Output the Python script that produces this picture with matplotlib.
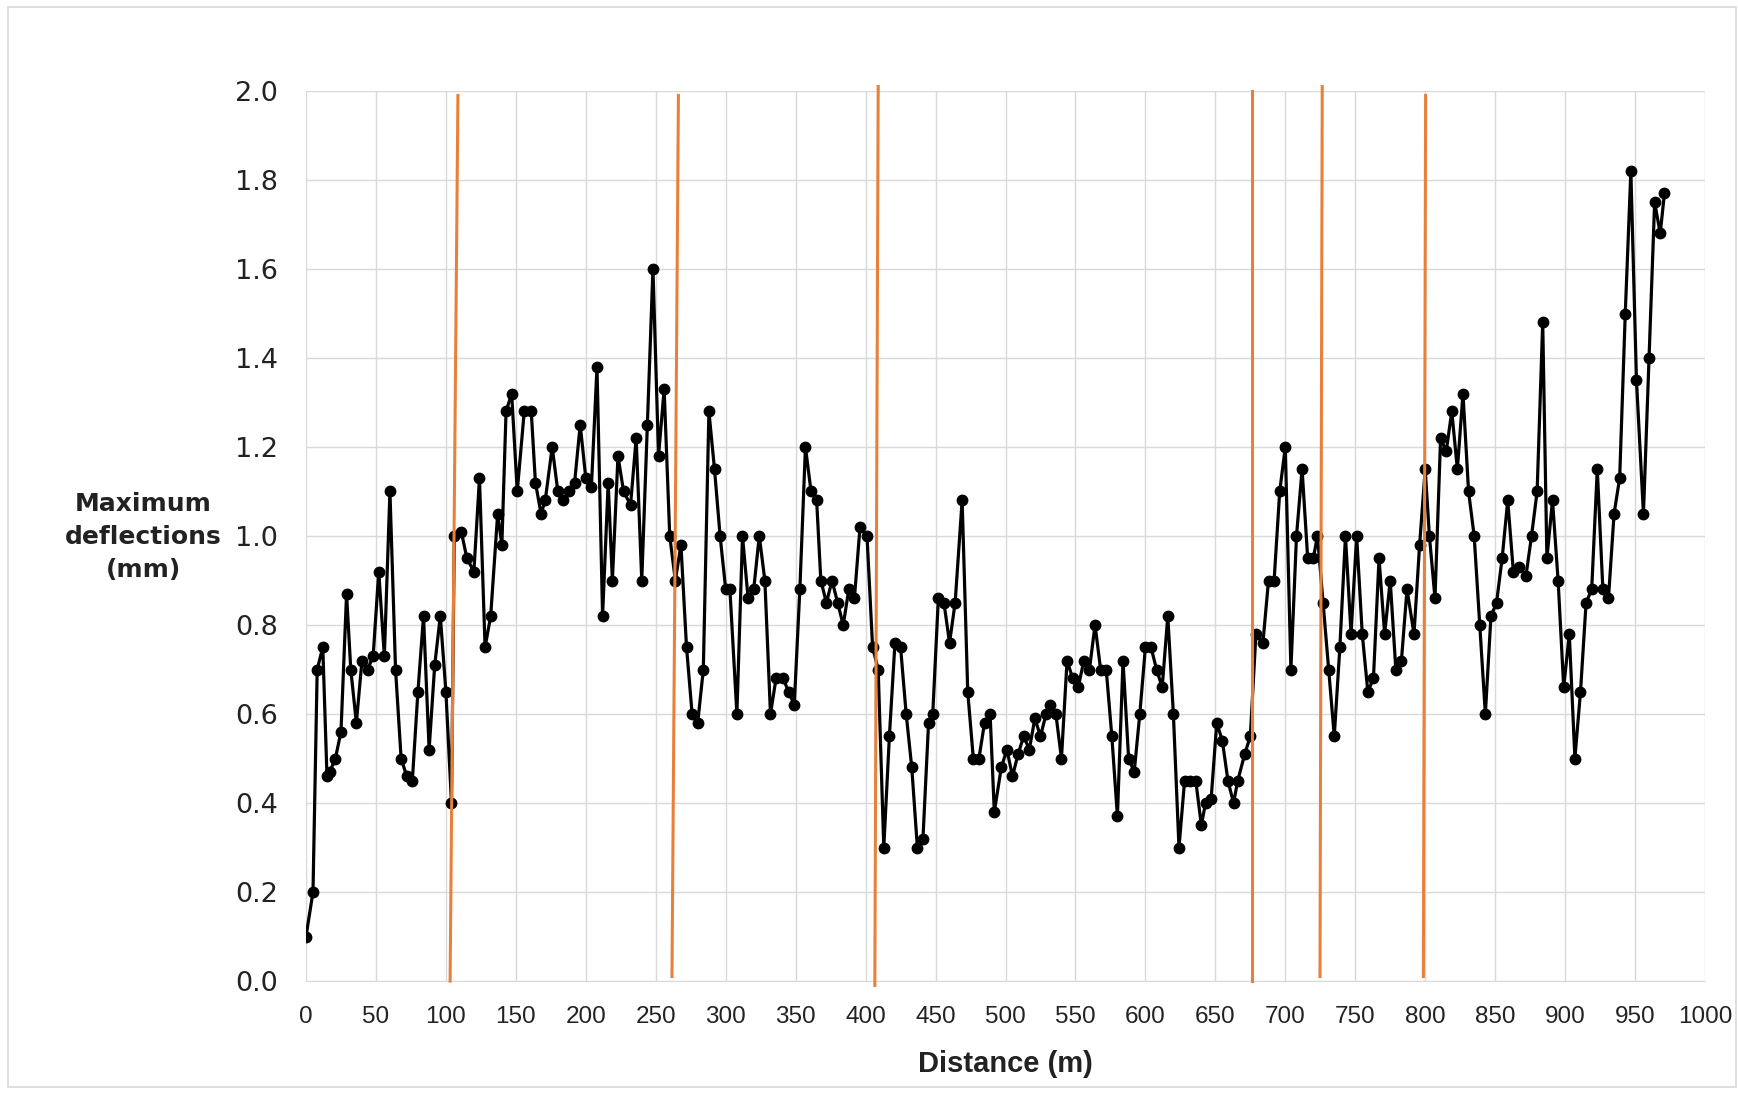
import matplotlib
matplotlib.use("Agg")
import matplotlib.pyplot as plt
from matplotlib.patches import Rectangle

# ---- data ----
distance_m = [
    0, 5, 8, 12, 15, 17, 21, 25, 29, 32, 36, 40, 44, 48, 52, 56, 60, 64, 68, 72,
    76, 80, 84, 88, 92, 96, 100, 104, 106, 111, 115, 120, 124, 128, 132, 137, 140, 143, 147, 151,
    156, 161, 164, 168, 171, 176, 180, 184, 188, 192, 196, 200, 204, 208, 212, 216, 219, 223, 227, 232,
    236, 240, 244, 248, 252, 256, 260, 264, 268, 272, 276, 280, 284, 288, 292, 296, 300, 303, 308, 312,
    316, 320, 324, 328, 332, 336, 341, 345, 349, 353, 357, 361, 365, 368, 372, 376, 380, 384, 388, 392,
    396, 401, 405, 409, 413, 417, 421, 425, 429, 433, 437, 441, 445, 448, 452, 456, 460, 464, 469, 473,
    477, 481, 485, 489, 492, 497, 501, 505, 509, 513, 517, 521, 525, 529, 532, 536, 540, 544, 548, 552,
    556, 560, 564, 568, 572, 576, 580, 584, 588, 592, 596, 600, 604, 608, 612, 616, 620, 624, 628, 632,
    636, 640, 643, 647, 651, 655, 659, 663, 666, 671, 675, 679, 684, 688, 692, 696, 700, 704, 708, 712,
    716, 720, 723, 727, 731, 735, 739, 743, 747, 751, 755, 759, 763, 767, 771, 775, 779, 783, 787, 792,
    796, 800, 803, 807, 811, 815, 819, 823, 827, 831, 835, 839, 843, 847, 851, 855, 859, 863, 867, 872,
    876, 880, 884, 887, 891, 895, 899, 903, 907, 911, 915, 919, 923, 927, 931, 935, 939, 943, 947, 951,
    956, 960, 964, 968, 971,
]
max_deflection_mm = [
    0.10, 0.20, 0.70, 0.75, 0.46, 0.47, 0.50, 0.56, 0.87, 0.70, 0.58, 0.72, 0.70, 0.73, 0.92, 0.73, 1.10, 0.70, 0.50, 0.46,
    0.45, 0.65, 0.82, 0.52, 0.71, 0.82, 0.65, 0.40, 1.00, 1.01, 0.95, 0.92, 1.13, 0.75, 0.82, 1.05, 0.98, 1.28, 1.32, 1.10,
    1.28, 1.28, 1.12, 1.05, 1.08, 1.20, 1.10, 1.08, 1.10, 1.12, 1.25, 1.13, 1.11, 1.38, 0.82, 1.12, 0.90, 1.18, 1.10, 1.07,
    1.22, 0.90, 1.25, 1.60, 1.18, 1.33, 1.00, 0.90, 0.98, 0.75, 0.60, 0.58, 0.70, 1.28, 1.15, 1.00, 0.88, 0.88, 0.60, 1.00,
    0.86, 0.88, 1.00, 0.90, 0.60, 0.68, 0.68, 0.65, 0.62, 0.88, 1.20, 1.10, 1.08, 0.90, 0.85, 0.90, 0.85, 0.80, 0.88, 0.86,
    1.02, 1.00, 0.75, 0.70, 0.30, 0.55, 0.76, 0.75, 0.60, 0.48, 0.30, 0.32, 0.58, 0.60, 0.86, 0.85, 0.76, 0.85, 1.08, 0.65,
    0.50, 0.50, 0.58, 0.60, 0.38, 0.48, 0.52, 0.46, 0.51, 0.55, 0.52, 0.59, 0.55, 0.60, 0.62, 0.60, 0.50, 0.72, 0.68, 0.66,
    0.72, 0.70, 0.80, 0.70, 0.70, 0.55, 0.37, 0.72, 0.50, 0.47, 0.60, 0.75, 0.75, 0.70, 0.66, 0.82, 0.60, 0.30, 0.45, 0.45,
    0.45, 0.35, 0.40, 0.41, 0.58, 0.54, 0.45, 0.40, 0.45, 0.51, 0.55, 0.78, 0.76, 0.90, 0.90, 1.10, 1.20, 0.70, 1.00, 1.15,
    0.95, 0.95, 1.00, 0.85, 0.70, 0.55, 0.75, 1.00, 0.78, 1.00, 0.78, 0.65, 0.68, 0.95, 0.78, 0.90, 0.70, 0.72, 0.88, 0.78,
    0.98, 1.15, 1.00, 0.86, 1.22, 1.19, 1.28, 1.15, 1.32, 1.10, 1.00, 0.80, 0.60, 0.82, 0.85, 0.95, 1.08, 0.92, 0.93, 0.91,
    1.00, 1.10, 1.48, 0.95, 1.08, 0.90, 0.66, 0.78, 0.50, 0.65, 0.85, 0.88, 1.15, 0.88, 0.86, 1.05, 1.13, 1.50, 1.82, 1.35,
    1.05, 1.40, 1.75, 1.68, 1.77,
]
# hand-drawn section boundaries: (x at top, x at bottom)
boundary_top_x = [108.6, 266.2, 409.0, 676.5, 726.4, 800.3]
boundary_bottom_x = [103.0, 261.6, 406.6, 676.5, 724.8, 798.7]
boundary_top_y = [1.99, 1.99, 2.01, 2.00, 2.01, 1.99]
boundary_bottom_y = [0.00, 0.01, -0.01, 0.00, 0.01, 0.01]

x_ticks = list(range(0, 1001, 50))
y_ticks = [0.0, 0.2, 0.4, 0.6, 0.8, 1.0, 1.2, 1.4, 1.6, 1.8, 2.0]

# ---- figure ----
W, H = 1738, 1093
fig = plt.figure(figsize=(W / 100, H / 100), dpi=100)
fig.patch.set_facecolor("white")
fig.add_artist(Rectangle((8 / W, 6 / H), 1 - 10 / W, 1 - 13 / H, transform=fig.transFigure,
                         fill=False, edgecolor="#D9D9D9", linewidth=1.2))

ax = fig.add_axes([306 / W, 1 - 981 / H, (1705 - 306) / W, (981 - 91) / H])
ax.set_xlim(0, 1000)
ax.set_ylim(0, 2.0)
ax.set_xticks(x_ticks)
ax.set_yticks(y_ticks)
ax.set_xticklabels([str(v) for v in x_ticks], fontsize=17.5,
                   family=["Liberation Sans Narrow", "Liberation Sans", "DejaVu Sans"])
ax.set_yticklabels([f"{v:.1f}" for v in y_ticks], fontsize=19.5, family=["DejaVu Sans"])
ax.tick_params(axis="x", length=0, colors="#222222", pad=18)
ax.tick_params(axis="y", length=0, colors="#222222", pad=20)
ax.grid(True, color="#D9D9D9", linewidth=1.0)
ax.set_axisbelow(True)
for s in ["top", "right", "left"]:
    ax.spines[s].set_visible(False)
ax.spines["bottom"].set_color("#D9D9D9")

ax.plot(distance_m, max_deflection_mm, color="black", linewidth=2.3,
        marker="o", markersize=7.5, markerfacecolor="black", markeredgecolor="black", zorder=3)

for xt, xb, yt, yb in zip(boundary_top_x, boundary_bottom_x, boundary_top_y, boundary_bottom_y):
    ax.plot([xt, xb], [yt, yb], color="#E8803A", linewidth=2.2, zorder=4, clip_on=False)

ax.set_xlabel("Distance (m)", fontsize=21, fontweight="bold",
              family=["Liberation Sans Narrow", "Liberation Sans", "DejaVu Sans"], labelpad=16, color="#222222")
fig.text(143 / W, 1 - 537 / H, "Maximum\ndeflections\n(mm)", ha="center", va="center",
         fontsize=18, fontweight="bold", linespacing=1.45, color="#222222")

fig.savefig("out.png", dpi=100, facecolor="white")
